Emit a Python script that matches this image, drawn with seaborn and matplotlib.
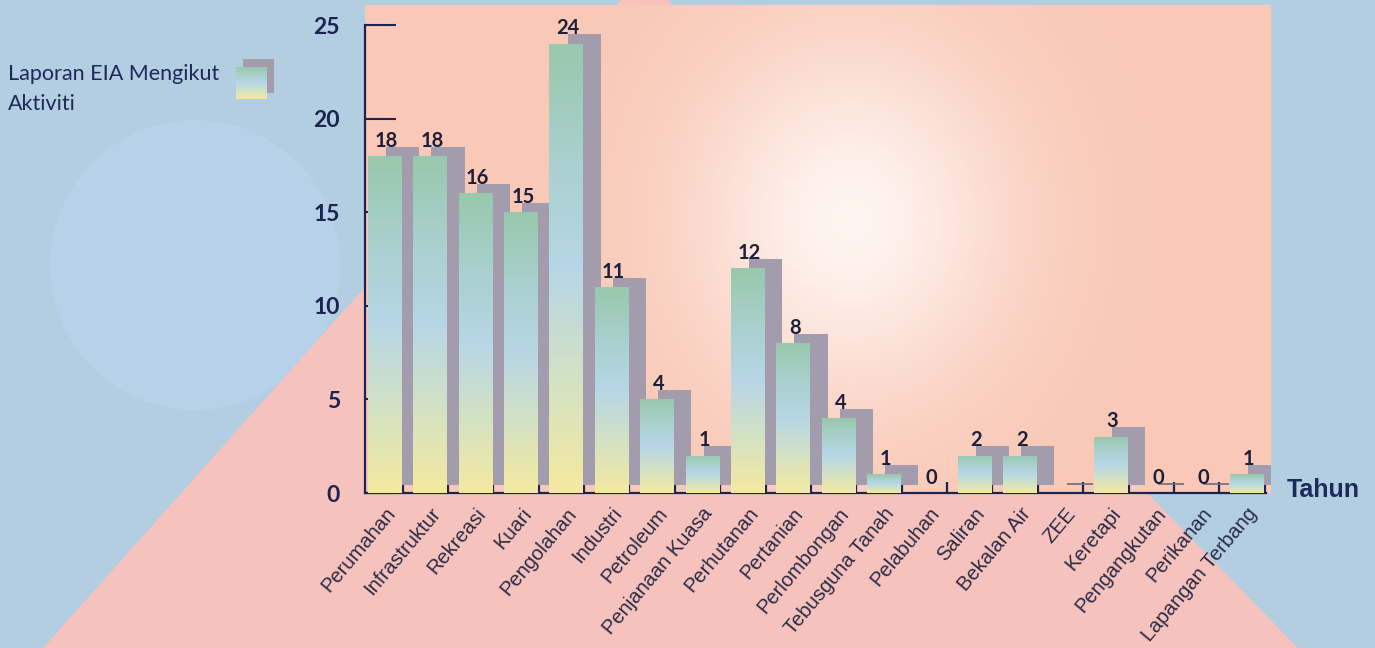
"""
Laporan EIA mengikut aktiviti - bar chart with offset shadow bars.
"""

import numpy as np
import pandas as pd
import seaborn as sns
import matplotlib.pyplot as plt
from matplotlib.patches import Rectangle, Polygon, Circle
from matplotlib.colors import LinearSegmentedColormap, to_rgb

# data
aktiviti = ["Perumahan", "Infrastruktur", "Rekreasi", "Kuari", "Pengolahan",
            "Industri", "Petroleum", "Penjanaan Kuasa", "Perhutanan", "Pertanian",
            "Perlombongan", "Tebusguna Tanah", "Pelabuhan", "Saliran", "Bekalan Air",
            "ZEE", "Keretapi", "Pengangkutan", "Perikanan", "Lapangan Terbang"]
tinggi_bar = [18, 18, 16, 15, 24, 11, 5, 2, 12, 8, 4, 1, 0, 2, 2, 0, 3, 0, 0, 1]
label_bar = ["18", "18", "16", "15", "24", "11", "4", "1", "12", "8",
             "4", "1", "0", "2", "2", "", "3", "0", "0", "1"]
ytick_vals = [0, 5, 10, 15, 20, 25]

W, H = 1375, 648
NAVY = "#1b2350"
GREY = "#a29cad"
BLUE_BG = "#b3cde1"
PINK = "#f5c2bd"
SALMON = "#f9c8b6"

sns.set_theme(style="white")
plt.rcParams["font.family"] = ["Lato", "DejaVu Sans"]

grad = LinearSegmentedColormap.from_list(
    "bar", ["#f4e9a0", "#d3e2c4", "#b7d6e6", "#a9d0cd", "#98c8ad"])

fig = plt.figure(figsize=(W / 100, H / 100), dpi=100)
fig.patch.set_facecolor(BLUE_BG)

# background decoration in pixel coordinates
bg = fig.add_axes([0, 0, 1, 1], zorder=-1)
bg.set_xlim(0, W)
bg.set_ylim(H, 0)
bg.axis("off")
bg.add_patch(Circle((195, 265), 145, color="#b7d2e8", lw=0))
bg.add_patch(Polygon([(43, 648), (621, 0), (668, 0), (1298, 648)], color=PINK, lw=0))

# salmon plot area with a white glow
gx, gy = np.meshgrid(np.arange(365, 1271), np.arange(5, 493))
glow = np.exp(-(((gx - 850) / 160.0) ** 2 + ((gy - 220) / 180.0) ** 2))
glow = 0.85 * glow
base = np.array(to_rgb(SALMON))
img = base[None, None, :] * (1 - glow[..., None]) + np.array([1, 0.99, 0.98]) * glow[..., None]
bg.imshow(img, extent=(365, 1271, 493, 5), origin="upper", aspect="auto", zorder=2)

# legend swatch
bg.add_patch(Rectangle((243, 59), 31, 34, color=GREY, lw=0, zorder=3))
sw = np.linspace(1, 0, 50)[:, None]
bg.imshow(sw, cmap=grad, extent=(236, 267, 99, 67), origin="upper", aspect="auto", zorder=4)
bg.set_xlim(0, W)
bg.set_ylim(H, 0)

fig.text(8 / W, 1 - 64 / H, "Laporan EIA Mengikut\nAktiviti", ha="left", va="top",
         fontsize=15.5, color="#1e2a5c", linespacing=1.65)
fig.text(1287 / W, 1 - 490 / H, "Tahun", ha="left", va="center", fontsize=18,
         fontweight="bold", color="#1a2a5a", family=["Liberation Sans", "DejaVu Sans"])

# main axes
ax = fig.add_axes([365 / W, (H - 493) / H, (1271 - 365) / W, (493 - 5) / H])
ax.set_facecolor("none")

df = pd.DataFrame({"aktiviti": aktiviti, "bilangan": tinggi_bar})
sns.barplot(data=df, x="aktiviti", y="bilangan", color="#b7d6e6", width=0.73,
            errorbar=None, ax=ax, zorder=3, linewidth=0)
front = list(ax.patches)

n = len(aktiviti)
pos = np.arange(n)

# gradient fill for the front bars
for p in front:
    x0, w, h = p.get_x(), p.get_width(), p.get_height()
    if h <= 0:
        p.set_visible(False)
        continue
    im = ax.imshow(np.linspace(0, 1, 100)[:, None], cmap=grad, origin="lower",
                   extent=(x0, x0 + w, 0, h), aspect="auto", zorder=3)
    im.set_clip_path(p)

# shadow bars, shifted right and up
for i, v in enumerate(tinggi_bar):
    if v > 0:
        ax.bar(i + 0.4, v + 0.05, bottom=0.45, width=0.73, color=GREY, lw=0, zorder=2)
    elif i != 12:
        ax.hlines(0.47, i + 0.05, i + 0.62, color="#6f6a7a", lw=1.2, zorder=2)

# value labels
for i, (v, t) in enumerate(zip(tinggi_bar, label_bar)):
    ax.text(i + 0.05, v + 0.5, t, ha="center", va="baseline", fontsize=14.5,
            fontweight="bold", color="#1c1f3a")

ax.set_aspect("auto")
ax.set_xlim(-0.43, 19.54)
ax.set_ylim(0, 26.07)

for s in ["top", "right"]:
    ax.spines[s].set_visible(False)
for s in ["left", "bottom"]:
    ax.spines[s].set_color(NAVY)
    ax.spines[s].set_linewidth(1.6)
ax.spines["left"].set_bounds(0, 25)
ax.spines["bottom"].set_bounds(-0.43, 19.42)
ax.set_axisbelow(True)

ax.set_yticks(ytick_vals)
ax.set_yticklabels([str(v) for v in ytick_vals], fontsize=16.5, fontweight="bold", color=NAVY)
ax.tick_params(axis="y", direction="in", length=22, width=1.5, color=NAVY, pad=18, left=True)

ax.set_xticks(pos)
ax.set_xticklabels(aktiviti, rotation=50, ha="right", rotation_mode="anchor",
                   fontsize=14.5, color="#2a2b45", family=["Liberation Sans", "DejaVu Sans"])
ax.set_xticks(pos + 0.4, minor=True)
ax.tick_params(axis="x", which="major", length=0, pad=8, bottom=True)
ax.tick_params(axis="x", which="minor", direction="in", length=8, width=1.6,
               color=NAVY, bottom=True)
ax.set_xlabel("")
ax.set_ylabel("")

fig.savefig("out.png", dpi=100, facecolor=fig.get_facecolor())
